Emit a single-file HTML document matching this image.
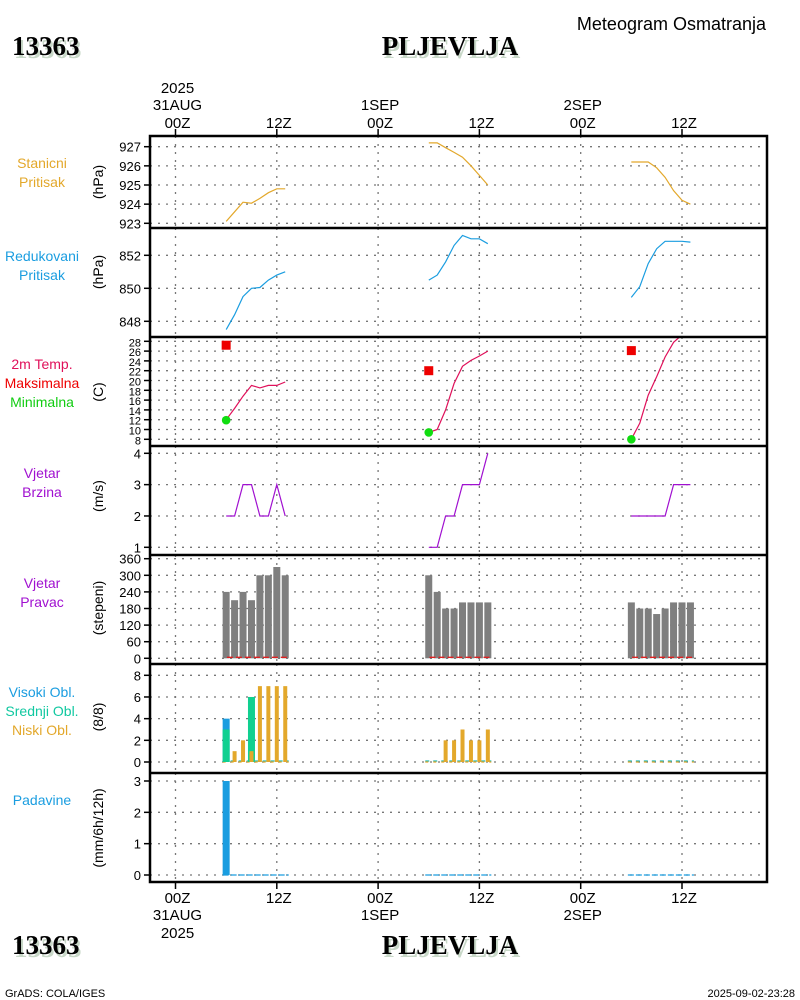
<!DOCTYPE html>
<html><head><meta charset="utf-8">
<style>
html,body{margin:0;padding:0;background:#fff;}
svg{display:block;}
text{font-family:"Liberation Sans",sans-serif;}
.big{font-family:"Liberation Serif",serif;font-weight:bold;font-size:27px;}
</style></head>
<body>
<svg id="chart" width="800" height="1000" viewBox="0 0 800 1000" xmlns="http://www.w3.org/2000/svg">
<g id="g"></g>
</svg>
<script>
// ---- data (hourly observations) ----
const hoursDay1 = [6,7,8,9,10,11,12,13];
const hoursDay2 = [30,31,32,33,34,35,36,37];
const hoursDay3 = [54,55,56,57,58,59,60,61];
const stnPres1 = [923.1,923.6,924.1,924.05,924.3,924.6,924.8,924.8];
const stnPres2 = [927.2,927.2,926.95,926.7,926.45,926.0,925.5,925.0];
const stnPres3 = [926.2,926.2,926.2,925.9,925.4,924.7,924.2,924.0];
const redPres1 = [847.5,848.4,849.5,850.0,850.05,850.5,850.8,851.0];
const redPres2 = [850.5,850.8,851.6,852.6,853.2,853.0,853.0,852.7];
const redPres3 = [849.45,850.1,851.5,852.4,852.85,852.85,852.85,852.8];
const temp1 = [12.0,14.3,16.8,19.0,18.5,19.0,19.0,19.7];
const temp2 = [9.4,10.0,14.0,19.4,22.9,24.1,25.0,26.0];
const temp3 = [8.0,11.3,17.0,20.8,24.8,27.8,29.3,30.5];
const tmaxHours = [6,30,54];
const tmaxVals = [27.2,22.0,26.1];
const tminVals = [11.9,9.4,8.0];
const wspd1 = [2,2,3,3,2,2,3,2];
const wspd2 = [1,1,2,2,3,3,3,4];
const wspd3 = [2,2,2,2,2,3,3,3];
const wdir1 = [240,210,240,210,300,300,330,300];
const wdir2 = [300,240,180,180,202,202,202,202];
const wdir3 = [202,180,180,160,180,202,202,202];
const cloudHigh1 = [4,0,0,0,0,0,0,0];
const cloudMid1 = [3,0,0,6,0,0,0,0];
const cloudLow1 = [0,1,2,1,7,7,7,7];
const cloudLow2 = [0,0,2,2,3,2,2,3];
const cloudLow3 = [0,0,0,0,0,0,0,0];
const precip1 = [3.0,0,0,0,0,0,0,0];
const precip2 = [0,0,0,0,0,0,0,0];
const precip3 = [0,0,0,0,0,0,0,0];
const tickStn = [923,924,925,926,927];
const tickRed = [848,850,852];
const tickTemp = [8,10,12,14,16,18,20,22,24,26,28];
const tickWspd = [1,2,3,4];
const tickWdir = [0,60,120,180,240,300,360];
const tickCloud = [0,2,4,6,8];
const tickPrecip = [0,1,2,3];

const NS="http://www.w3.org/2000/svg";
const g=document.getElementById('g');
function el(tag,attrs,parent){const e=document.createElementNS(NS,tag);for(const k in attrs)e.setAttribute(k,attrs[k]);(parent||g).appendChild(e);return e;}
function txt(x,y,s,attrs){const e=el('text',Object.assign({x:x,y:y,'font-size':13,fill:'#000'},attrs||{}));e.textContent=s;return e;}

const L=150,R=767;
function X(h){return 175.5+h*(101.3/12);}
function lin(v0,y0,v1,y1){return v=>y0+(v-v0)*(y1-y0)/(v1-v0);}
const panels=[
 {name:'station-pressure',top:136,bot:228,y:lin(923,223.3,927,146.7),ticks:tickStn},
 {name:'reduced-pressure',top:228,bot:337,y:lin(848,321.3,852,255.3),ticks:tickRed},
 {name:'temperature',top:337,bot:446,y:lin(8,439.3,28,341.3),ticks:tickTemp},
 {name:'wind-speed',top:446,bot:555,y:lin(1,547.3,4,453.3),ticks:tickWspd},
 {name:'wind-direction',top:555,bot:664,y:lin(0,658.3,360,558.7),ticks:tickWdir},
 {name:'cloud-cover',top:664,bot:773,y:lin(0,762,8,675.3),ticks:tickCloud},
 {name:'precipitation',top:773,bot:882,y:lin(0,875,3,781),ticks:tickPrecip}
];
const vHours=[0,12,24,36,48,60];
const defs=el('defs',{});
panels.forEach((p,i)=>{
  const cp=el('clipPath',{id:'cp'+i},defs);
  el('rect',{x:L,y:p.top,width:R-L,height:p.bot-p.top},cp);
  const pg=el('g',{});
  
  
  vHours.forEach(h=>{const ln=el('line',{x1:X(h),x2:X(h),y1:p.top,y2:p.bot,stroke:'#777','stroke-width':1.3,'stroke-dasharray':'2,6'},pg);
    });
  p.ticks.forEach(t=>{const y=p.y(t);
    const ln=el('line',{x1:L,x2:R,y1:y,y2:y,stroke:'#777','stroke-width':1.3,'stroke-dasharray':'2,6'},pg);
    
    el('line',{x1:L-6,x2:L,y1:y,y2:y,stroke:'#000','stroke-width':1.5},pg);
    const t2=txt(L-9,y+5,String(t),{'text-anchor':'end','font-size':i==2?11:13});
    
  });
  p.g=el('g',{'clip-path':'url(#cp'+i+')'},pg);
});
function line(pi,hrs,vals,color,name){
  const p=panels[pi];
  const pts=hrs.map((h,k)=>X(h).toFixed(1)+','+p.y(vals[k]).toFixed(1)).join(' ');
  const e=el('polyline',{points:pts,fill:'none',stroke:color,'stroke-width':1.2},p.g);
  
}
line(0,hoursDay1,stnPres1,'#e3a82b','station-pressure-day1');
line(0,hoursDay2,stnPres2,'#e3a82b','station-pressure-day2');
line(0,hoursDay3,stnPres3,'#e3a82b','station-pressure-day3');
line(1,hoursDay1,redPres1,'#1a9de0','reduced-pressure-day1');
line(1,hoursDay2,redPres2,'#1a9de0','reduced-pressure-day2');
line(1,hoursDay3,redPres3,'#1a9de0','reduced-pressure-day3');
line(2,hoursDay1,temp1,'#e0105a','temperature-day1');
line(2,hoursDay2,temp2,'#e0105a','temperature-day2');
line(2,hoursDay3,temp3,'#e0105a','temperature-day3');
tmaxHours.forEach((h,k)=>{
  const p=panels[2];
  const s=el('rect',{x:X(h)-4.5,y:p.y(tmaxVals[k])-4.5,width:9,height:9,fill:'#ee0000'},p.g);
  
  const c=el('circle',{cx:X(h),cy:p.y(tminVals[k]),r:4.3,fill:'#11dd11'},p.g);
  
});
line(3,hoursDay1,wspd1,'#a010d0','wind-speed-day1');
line(3,hoursDay2,wspd2,'#a010d0','wind-speed-day2');
line(3,hoursDay3,wspd3,'#a010d0','wind-speed-day3');
function bars(pi,hrs,vals,color,w,name){
  const p=panels[pi];
  hrs.forEach((h,k)=>{ if(vals[k]<=0) return;
    const y=p.y(vals[k]),y0=p.y(0);
    const b=el('rect',{x:X(h)-w/2,y:y,width:w,height:y0-y,fill:color},p.g);
    
  });
}
function zeroLine(pi,hrs,color,dash,name,off){
  const p=panels[pi];const y=p.y(0)+(off||0);
  const e=el('line',{x1:X(hrs[0])-3.5,x2:X(hrs[hrs.length-1])+3.5,y1:y,y2:y,stroke:color,'stroke-width':1.3,'stroke-dasharray':dash},p.g);
  
}
bars(4,hoursDay1,wdir1,'#7f7f7f',7,'wind-direction-bar');
bars(4,hoursDay2,wdir2,'#7f7f7f',7,'wind-direction-bar');
bars(4,hoursDay3,wdir3,'#7f7f7f',7,'wind-direction-bar');
[hoursDay1,hoursDay2,hoursDay3].forEach(hh=>zeroLine(4,hh.map((h,k)=>k==0?h+0.5:h),'#e02020','6,3','wind-direction-zero-line',-1));
[hoursDay1,hoursDay2,hoursDay3].forEach(hh=>{zeroLine(5,hh,'#20b8b0','4,4','cloud-zero-line',-1);zeroLine(5,hh,'#e3a82b','3,5','cloud-zero-line',0);});
bars(5,hoursDay1,cloudHigh1,'#1a9de0',7,'high-cloud-bar');
bars(5,hoursDay1,cloudMid1,'#10d090',7,'mid-cloud-bar');
bars(5,hoursDay1,cloudLow1,'#e3a82b',4,'low-cloud-bar');
bars(5,hoursDay2,cloudLow2,'#e3a82b',4,'low-cloud-bar');
bars(5,hoursDay3,cloudLow3,'#e3a82b',4,'low-cloud-bar');
[hoursDay1,hoursDay2,hoursDay3].forEach(hh=>zeroLine(6,hh,'#1a9de0','6,2','precip-zero-line',0));
bars(6,hoursDay1,precip1,'#1a9de0',7,'precip-bar');
bars(6,hoursDay2,precip2,'#1a9de0',7,'precip-bar');
bars(6,hoursDay3,precip3,'#1a9de0',7,'precip-bar');

// frame
const fr=el('rect',{x:L,y:136,width:R-L,height:882-136,fill:'none',stroke:'#000','stroke-width':2.5});

[228,337,446,555,664,773].forEach(y=>el('line',{x1:L,x2:R,y1:y,y2:y,stroke:'#000','stroke-width':2.5}));
// x ticks
const topLabels=[['2025','31AUG','00Z'],['','','12Z'],['','1SEP','00Z'],['','','12Z'],['','2SEP','00Z'],['','','12Z']];
const botLabels=[['00Z','31AUG','2025'],['12Z','',''],['00Z','1SEP',''],['12Z','',''],['00Z','2SEP',''],['12Z','','']];
vHours.forEach((h,k)=>{
  const x=X(h);
  el('line',{x1:x,x2:x,y1:129,y2:136,stroke:'#000','stroke-width':1.5});
  el('line',{x1:x,x2:x,y1:882,y2:889,stroke:'#000','stroke-width':1.5});
  topLabels[k].forEach((s,j)=>{ if(!s) return; const t=txt(x+2,[93,110,128][j],s,{'text-anchor':'middle','font-size':15});
    });
  botLabels[k].forEach((s,j)=>{ if(!s) return; const t=txt(x+2,[903,920,938][j],s,{'text-anchor':'middle','font-size':15});
    });
});
// left panel titles
const titles=[
 [[['Stanicni','#e3a82b'],['Pritisak','#e3a82b']],168,'(hPa)',182],
 [[['Redukovani','#1a9de0'],['Pritisak','#1a9de0']],261,'(hPa)',272],
 [[['2m Temp.','#e0105a'],['Maksimalna','#ee0000'],['Minimalna','#11cc11']],369,'(C)',392],
 [[['Vjetar','#a010d0'],['Brzina','#a010d0']],478,'(m/s)',496],
 [[['Vjetar','#a010d0'],['Pravac','#a010d0']],588,'(stepeni)',608],
 [[['Visoki Obl.','#1a9de0'],['Srednji Obl.','#10c8a0'],['Niski Obl.','#e3a82b']],697,'(8/8)',717],
 [[['Padavine','#1a9de0']],805,'(mm/6h/12h)',828]
];
titles.forEach(tt=>{
  tt[0].forEach((ln,j)=>{const t=txt(42,tt[1]+j*19,ln[0],{'text-anchor':'middle',fill:ln[1],'font-size':14});
    });
  const a=txt(0,0,tt[2],{'text-anchor':'middle','font-size':14,transform:'translate(103,'+tt[3]+') rotate(-90)'});
  
});
// headers
function big(x,y,s,anchor,name){
  el('text',{x:x+2,y:y+3,'class':'big',fill:'#c8d8c8','text-anchor':anchor}).textContent=s;
  const t=txt(x,y,s,{'class':'big','text-anchor':anchor,'font-size':27});
  
}
big(12,55,'13363','start','station-id-top');
big(450,55,'PLJEVLJA','middle','station-name-top');
big(12,954,'13363','start','station-id-bottom');
big(450,954,'PLJEVLJA','middle','station-name-bottom');
let t=txt(766,30,'Meteogram Osmatranja',{'text-anchor':'end','font-size':18});

t=txt(5,997,'GrADS: COLA/IGES',{'font-size':11});

t=txt(795,997,'2025-09-02-23:28',{'text-anchor':'end','font-size':11});

</script>
</body></html>
